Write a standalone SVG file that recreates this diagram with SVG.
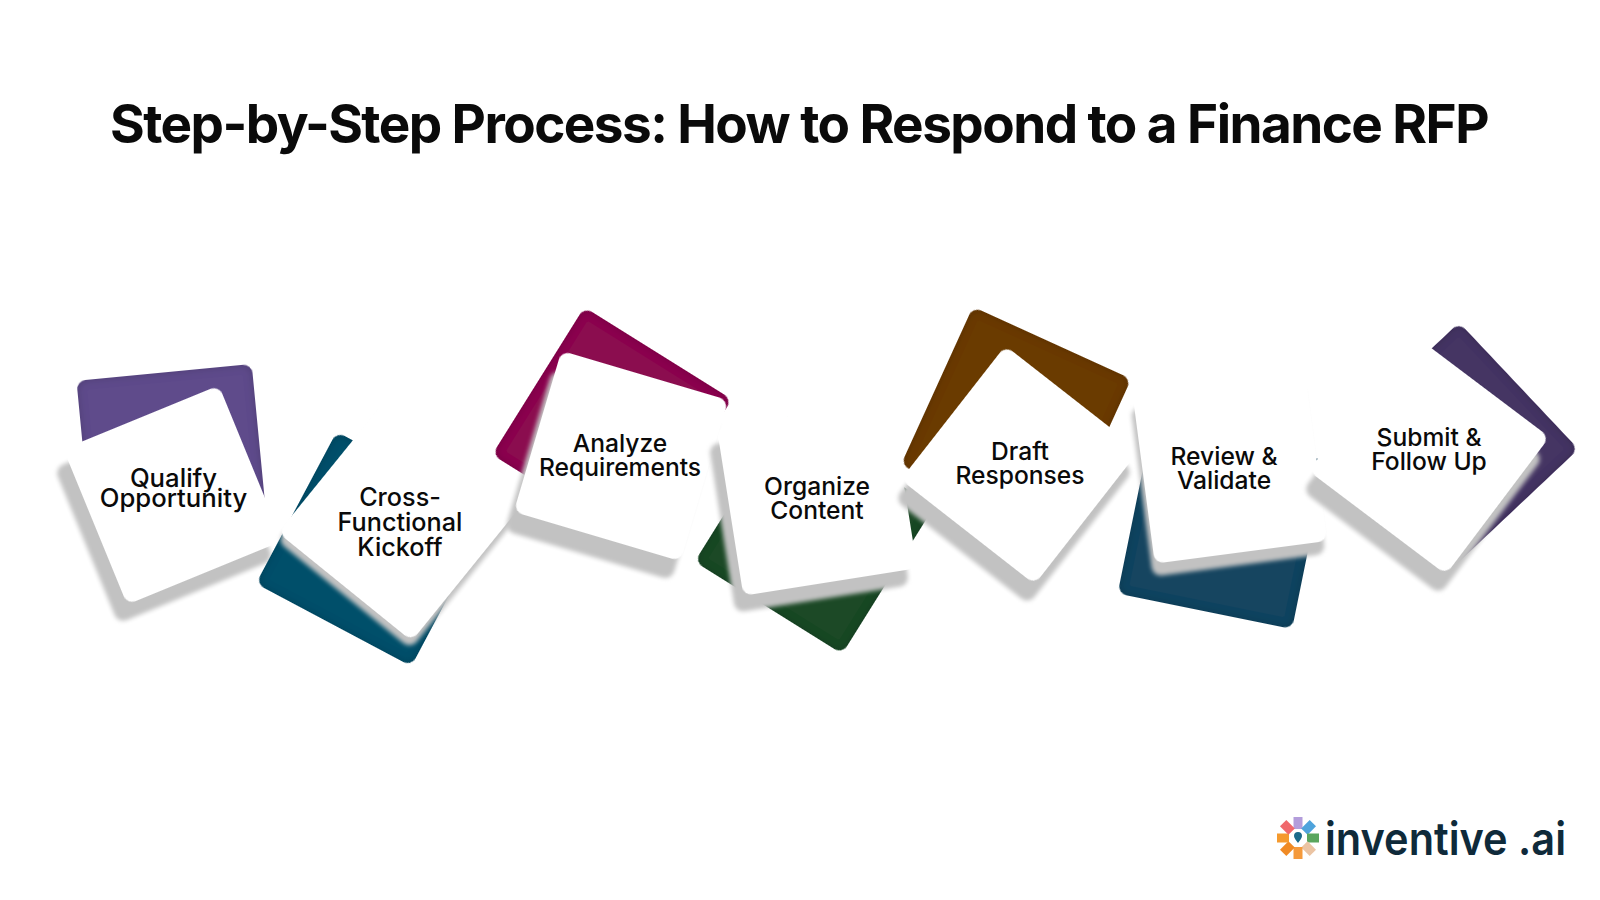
<svg xmlns="http://www.w3.org/2000/svg" width="1600" height="900" viewBox="0 0 1600 900">
<style>
.t{font-family:Inter,"Liberation Sans",sans-serif;font-size:24.6px;font-weight:500;fill:#0a0a0a;text-anchor:middle}
.s{fill:#c2c2c2;filter:url(#blur)}
.w{fill:#fff;filter:url(#soft)}
.b{filter:url(#inset)}
</style>
<defs>
<filter id="blur" x="-20%" y="-20%" width="140%" height="140%"><feGaussianBlur stdDeviation="2"/></filter>
<filter id="soft" x="-10%" y="-10%" width="120%" height="120%"><feGaussianBlur stdDeviation="0.6"/></filter>
<filter id="inset" x="-5%" y="-5%" width="110%" height="110%">
<feComponentTransfer in="SourceAlpha" result="inv"><feFuncA type="linear" slope="-1" intercept="1"/></feComponentTransfer>
<feGaussianBlur in="inv" stdDeviation="4" result="bl"/>
<feComposite in="bl" in2="SourceAlpha" operator="in" result="edge"/>
<feFlood flood-color="#000" flood-opacity="0.35"/>
<feComposite in2="edge" operator="in" result="sh"/>
<feMerge><feMergeNode in="SourceGraphic"/><feMergeNode in="sh"/></feMerge>
</filter>
</defs>
<rect width="1600" height="900" fill="#fff"/>
<text x="110" y="143" font-family="Inter,'Liberation Sans',sans-serif" font-size="54" font-weight="700" letter-spacing="-1.6" fill="#0a0a0a" textLength="1378" lengthAdjust="spacingAndGlyphs">Step-by-Step Process: How to Respond to a Finance RFP</text>

<g id="step-1">
<rect class="b" x="-88" y="-88" width="176" height="176" rx="9" fill="#5f4b8b" transform="translate(172.5 460) rotate(-5.5)"/>
<rect class="s" x="-84" y="-84" width="168" height="168" rx="9" transform="translate(164 514) rotate(-22.3)"/>
<rect class="w" x="-84" y="-84" width="168" height="168" rx="9" transform="translate(173 495) rotate(-22.3)"/>
<text class="t" style="font-size:25.7px" x="173.500" y="487">Qualify</text><text class="t" style="font-size:25.7px" x="173.500" y="507">Opportunity</text>
</g>
<g id="step-2">
<rect class="b" x="-88" y="-86" width="176" height="172" rx="9" fill="#004f6b" transform="translate(374 549) rotate(28)"/>
<rect class="s" x="-86" y="-86" width="172" height="172" rx="9" transform="translate(398 528) rotate(39)"/>
<rect class="w" x="-86" y="-86" width="172" height="172" rx="9" transform="translate(399 520) rotate(39)"/>
<text class="t" style="font-size:25.2px" x="400" y="506">Cross-</text><text class="t" style="font-size:25.2px" x="400" y="531">Functional</text><text class="t" style="font-size:25.2px" x="400" y="556">Kickoff</text>
</g>
<g id="step-3">
<rect class="b" x="-87" y="-87" width="174" height="174" rx="9" fill="#8b0f50" transform="translate(612 427) rotate(32)"/>
<rect class="s" x="-87" y="-84" width="174" height="168" rx="9" transform="translate(612 475) rotate(16.5)"/>
<rect class="w" x="-87" y="-84" width="174" height="168" rx="9" transform="translate(621 456) rotate(16.5)"/>
<text class="t" x="620" y="452">Analyze</text><text class="t" x="620" y="476">Requirements</text>
</g>
<g id="step-4">
<rect class="b" x="-87" y="-87" width="174" height="174" rx="9" fill="#1c4a25" transform="translate(814.5 534) rotate(32)"/>
<rect class="s" x="-88" y="-85" width="176" height="170" rx="9" transform="translate(809 515) rotate(-9)"/>
<rect class="w" x="-88" y="-85" width="176" height="170" rx="9" transform="translate(817 498) rotate(-9)"/>
<text class="t" x="817" y="495">Organize</text><text class="t" x="817" y="519">Content</text>
</g>
<g id="step-5">
<rect class="b" x="-87" y="-87" width="174" height="174" rx="9" fill="#6b3a00" transform="translate(1016 422) rotate(24.5)"/>
<rect class="s" x="-85" y="-85" width="170" height="170" rx="9" transform="translate(1014 485) rotate(38)"/>
<rect class="w" x="-85" y="-85" width="170" height="170" rx="9" transform="translate(1020 465) rotate(38)"/>
<text class="t" x="1020" y="460">Draft</text><text class="t" x="1020" y="484">Responses</text>
</g>
<g id="step-6">
<rect class="b" x="-89" y="-86" width="178" height="172" rx="9" fill="#154560" transform="translate(1222 527) rotate(11.5)"/>
<rect class="s" x="-87" y="-85" width="174" height="170" rx="9" transform="translate(1228 481) rotate(-7.5)"/>
<rect class="w" x="-87" y="-85" width="174" height="170" rx="9" transform="translate(1230 468) rotate(-7.5)"/>
<text class="t" x="1224" y="465">Review &amp;</text><text class="t" x="1224" y="489">Validate</text>
</g>
<g id="step-7">
<rect class="b" x="-87" y="-87" width="174" height="174" rx="9" fill="#443464" transform="translate(1455.5 445.5) rotate(46.7)"/>
<rect class="s" x="-86" y="-86" width="172" height="172" rx="9" transform="translate(1423 474) rotate(37)"/>
<rect class="w" x="-86" y="-86" width="172" height="172" rx="9" transform="translate(1429 454) rotate(37)"/>
<text class="t" x="1429" y="446">Submit &amp;</text><text class="t" x="1429" y="470">Follow Up</text>
</g>

<g id="logo">
<g transform="translate(1298 838)">
<rect x="-4.500" y="-21" width="9" height="12" fill="#b39ddb"/>
<rect x="-4.500" y="-21" width="9" height="12" fill="#4ea3dc" transform="rotate(45)"/>
<rect x="-4.500" y="-21" width="9" height="12" fill="#5aa65e" transform="rotate(90)"/>
<rect x="-4.500" y="-21" width="9" height="12" fill="#ebc4a3" transform="rotate(135)"/>
<rect x="-4.500" y="-21" width="9" height="12" fill="#f59a3c" transform="rotate(180)"/>
<rect x="-4.500" y="-21" width="9" height="12" fill="#f08a24" transform="rotate(225)"/>
<rect x="-4.500" y="-21" width="9" height="12" fill="#f59a2e" transform="rotate(270)"/>
<rect x="-4.500" y="-21" width="9" height="12" fill="#f0686c" transform="rotate(315)"/>
<path d="M0 5 C-2 2 -4 0 -4 -2 A4 4 0 0 1 4 -2 C4 0 2 2 0 5Z" fill="#1a6a8a"/>
</g>
<text x="1325" y="855" font-family="Inter,'Open Sans',sans-serif" font-size="45" font-weight="600" fill="#0f2a3a" textLength="241" lengthAdjust="spacingAndGlyphs">inventive .ai</text>
</g>
</svg>
